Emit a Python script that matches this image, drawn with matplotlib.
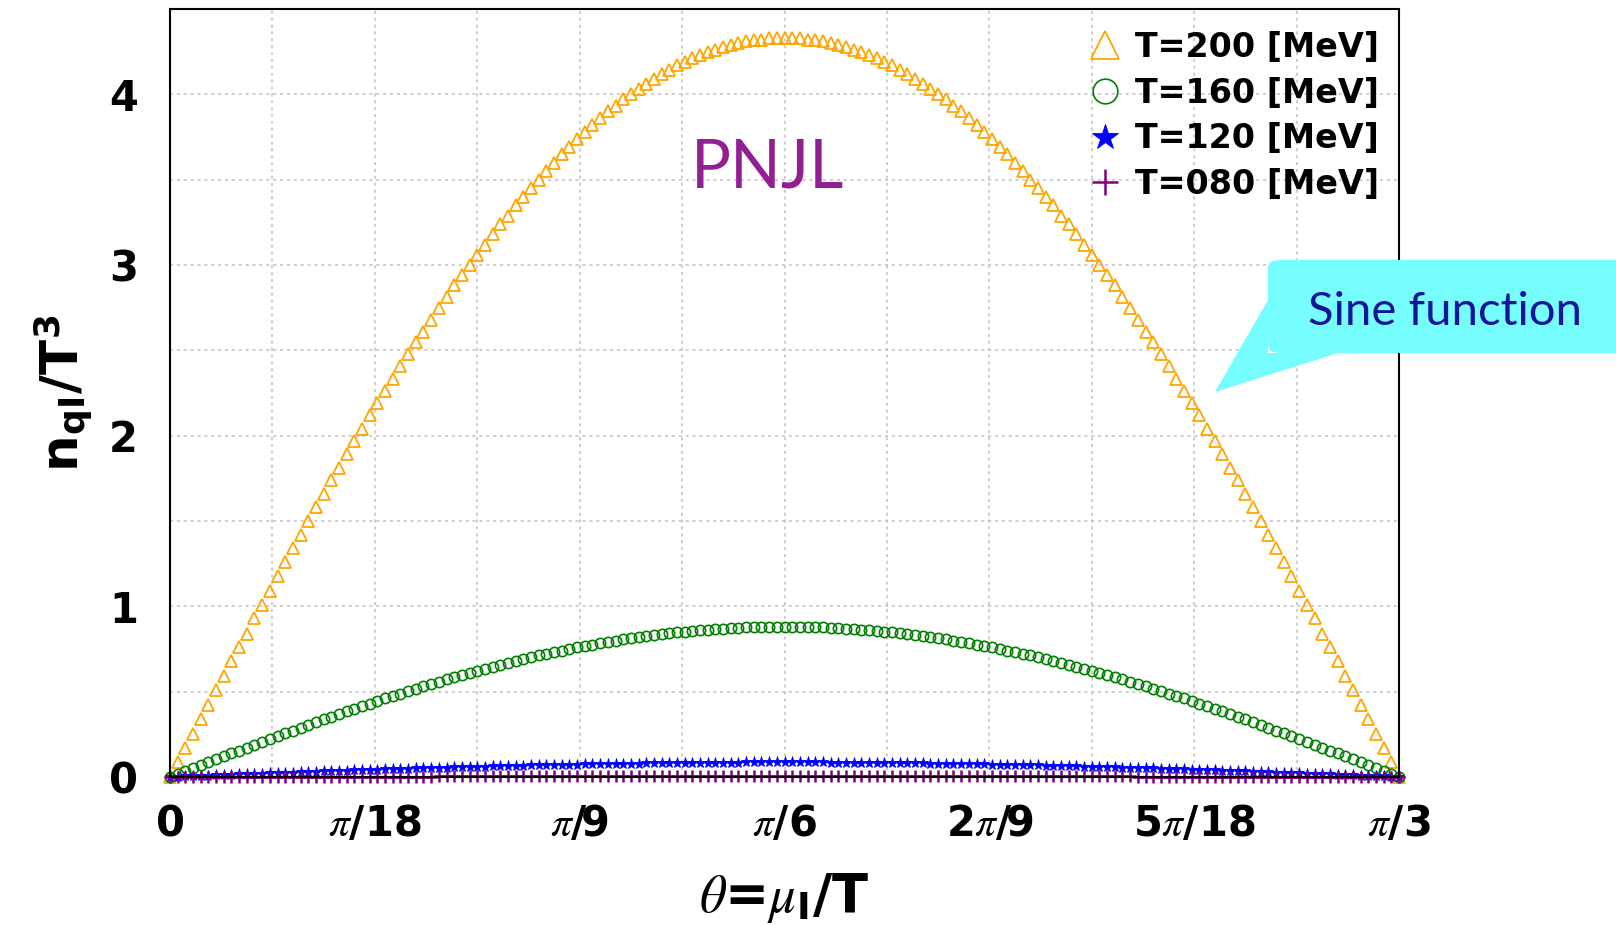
import numpy as np
import matplotlib
matplotlib.use('Agg')
import matplotlib.pyplot as plt
from matplotlib.patches import FancyBboxPatch, Polygon

plt.rcParams['font.family'] = ['DejaVu Sans']
plt.rcParams['mathtext.fontset'] = 'custom'
plt.rcParams['mathtext.it'] = 'STIXGeneral:italic'
plt.rcParams['mathtext.rm'] = 'DejaVu Sans:bold'
plt.rcParams['mathtext.bf'] = 'DejaVu Sans:bold'
plt.rcParams['mathtext.sf'] = 'DejaVu Sans:bold'

# data (161 points from 0 to pi/3)
n_points = 161
t200 = [0.00, 0.09, 0.17, 0.25, 0.34, 0.42, 0.51, 0.59, 0.68, 0.76,
        0.84, 0.93, 1.01, 1.09, 1.18, 1.26, 1.34, 1.42, 1.50, 1.58,
        1.66, 1.74, 1.81, 1.89, 1.97, 2.04, 2.12, 2.19, 2.26, 2.33,
        2.41, 2.48, 2.55, 2.61, 2.68, 2.75, 2.81, 2.88, 2.94, 3.00,
        3.06, 3.12, 3.18, 3.24, 3.29, 3.35, 3.40, 3.45, 3.50, 3.55,
        3.60, 3.65, 3.69, 3.74, 3.78, 3.82, 3.86, 3.90, 3.93, 3.97,
        4.00, 4.03, 4.06, 4.09, 4.12, 4.14, 4.17, 4.19, 4.21, 4.23,
        4.25, 4.26, 4.28, 4.29, 4.30, 4.31, 4.32, 4.32, 4.33, 4.33,
        4.33,
        4.33, 4.33, 4.32, 4.32, 4.31, 4.30, 4.29, 4.28, 4.26, 4.25,
        4.23, 4.21, 4.19, 4.17, 4.14, 4.12, 4.09, 4.06, 4.03, 4.00,
        3.97, 3.93, 3.90, 3.86, 3.82, 3.78, 3.74, 3.69, 3.65, 3.60,
        3.55, 3.50, 3.45, 3.40, 3.35, 3.29, 3.24, 3.18, 3.12, 3.06,
        3.00, 2.94, 2.88, 2.81, 2.75, 2.68, 2.61, 2.55, 2.48, 2.41,
        2.33, 2.26, 2.19, 2.12, 2.04, 1.97, 1.89, 1.81, 1.74, 1.66,
        1.58, 1.50, 1.42, 1.34, 1.26, 1.18, 1.09, 1.01, 0.93, 0.84,
        0.76, 0.68, 0.59, 0.51, 0.42, 0.34, 0.25, 0.17, 0.09, 0.00]
t160 = [0.000, 0.017, 0.035, 0.052, 0.069, 0.086, 0.103, 0.121, 0.138, 0.155,
        0.172, 0.189, 0.205, 0.222, 0.239, 0.255, 0.272, 0.288, 0.305, 0.321,
        0.337, 0.353, 0.368, 0.384, 0.400, 0.415, 0.430, 0.445, 0.460, 0.474,
        0.489, 0.503, 0.517, 0.531, 0.545, 0.558, 0.572, 0.585, 0.597, 0.610,
        0.622, 0.634, 0.646, 0.658, 0.669, 0.680, 0.691, 0.702, 0.712, 0.722,
        0.732, 0.741, 0.750, 0.759, 0.768, 0.776, 0.784, 0.792, 0.799, 0.806,
        0.813, 0.819, 0.826, 0.831, 0.837, 0.842, 0.847, 0.851, 0.856, 0.860,
        0.863, 0.866, 0.869, 0.872, 0.874, 0.876, 0.877, 0.878, 0.879, 0.880,
        0.880,
        0.880, 0.879, 0.878, 0.877, 0.876, 0.874, 0.872, 0.869, 0.866, 0.863,
        0.860, 0.856, 0.851, 0.847, 0.842, 0.837, 0.831, 0.826, 0.819, 0.813,
        0.806, 0.799, 0.792, 0.784, 0.776, 0.768, 0.759, 0.750, 0.741, 0.732,
        0.722, 0.712, 0.702, 0.691, 0.680, 0.669, 0.658, 0.646, 0.634, 0.622,
        0.610, 0.597, 0.585, 0.572, 0.558, 0.545, 0.531, 0.517, 0.503, 0.489,
        0.474, 0.460, 0.445, 0.430, 0.415, 0.400, 0.384, 0.368, 0.353, 0.337,
        0.321, 0.305, 0.288, 0.272, 0.255, 0.239, 0.222, 0.205, 0.189, 0.172,
        0.155, 0.138, 0.121, 0.103, 0.086, 0.069, 0.052, 0.035, 0.017, 0.000]
t120 = [0.000, 0.002, 0.003, 0.005, 0.007, 0.008, 0.010, 0.012, 0.013, 0.015,
        0.017, 0.018, 0.020, 0.021, 0.023, 0.025, 0.026, 0.028, 0.029, 0.031,
        0.033, 0.034, 0.036, 0.037, 0.039, 0.040, 0.042, 0.043, 0.044, 0.046,
        0.047, 0.049, 0.050, 0.051, 0.053, 0.054, 0.055, 0.056, 0.058, 0.059,
        0.060, 0.061, 0.062, 0.064, 0.065, 0.066, 0.067, 0.068, 0.069, 0.070,
        0.071, 0.072, 0.072, 0.073, 0.074, 0.075, 0.076, 0.076, 0.077, 0.078,
        0.079, 0.079, 0.080, 0.080, 0.081, 0.081, 0.082, 0.082, 0.083, 0.083,
        0.083, 0.084, 0.084, 0.084, 0.084, 0.085, 0.085, 0.085, 0.085, 0.085,
        0.085,
        0.085, 0.085, 0.085, 0.085, 0.085, 0.084, 0.084, 0.084, 0.084, 0.083,
        0.083, 0.083, 0.082, 0.082, 0.081, 0.081, 0.080, 0.080, 0.079, 0.079,
        0.078, 0.077, 0.076, 0.076, 0.075, 0.074, 0.073, 0.072, 0.072, 0.071,
        0.070, 0.069, 0.068, 0.067, 0.066, 0.065, 0.064, 0.062, 0.061, 0.060,
        0.059, 0.058, 0.056, 0.055, 0.054, 0.053, 0.051, 0.050, 0.049, 0.047,
        0.046, 0.044, 0.043, 0.042, 0.040, 0.039, 0.037, 0.036, 0.034, 0.033,
        0.031, 0.029, 0.028, 0.026, 0.025, 0.023, 0.021, 0.020, 0.018, 0.017,
        0.015, 0.013, 0.012, 0.010, 0.008, 0.007, 0.005, 0.003, 0.002, 0.000]
t080 = [0.000, 0.000, 0.000, 0.000, 0.000, 0.000, 0.000, 0.001, 0.001, 0.001,
        0.001, 0.001, 0.001, 0.001, 0.001, 0.001, 0.001, 0.001, 0.001, 0.001,
        0.002, 0.002, 0.002, 0.002, 0.002, 0.002, 0.002, 0.002, 0.002, 0.002,
        0.002, 0.002, 0.002, 0.002, 0.002, 0.003, 0.003, 0.003, 0.003, 0.003,
        0.003, 0.003, 0.003, 0.003, 0.003, 0.003, 0.003, 0.003, 0.003, 0.003,
        0.003, 0.003, 0.003, 0.003, 0.003, 0.004, 0.004, 0.004, 0.004, 0.004,
        0.004, 0.004, 0.004, 0.004, 0.004, 0.004, 0.004, 0.004, 0.004, 0.004,
        0.004, 0.004, 0.004, 0.004, 0.004, 0.004, 0.004, 0.004, 0.004, 0.004,
        0.004, 0.004, 0.004, 0.004, 0.004, 0.004, 0.004, 0.004, 0.004, 0.004,
        0.004, 0.004, 0.004, 0.004, 0.004, 0.004, 0.004, 0.004, 0.004, 0.004,
        0.004, 0.004, 0.004, 0.004, 0.004, 0.004, 0.003, 0.003, 0.003, 0.003,
        0.003, 0.003, 0.003, 0.003, 0.003, 0.003, 0.003, 0.003, 0.003, 0.003,
        0.003, 0.003, 0.003, 0.003, 0.003, 0.003, 0.002, 0.002, 0.002, 0.002,
        0.002, 0.002, 0.002, 0.002, 0.002, 0.002, 0.002, 0.002, 0.002, 0.002,
        0.002, 0.001, 0.001, 0.001, 0.001, 0.001, 0.001, 0.001, 0.001, 0.001,
        0.001, 0.001, 0.001, 0.001, 0.000, 0.000, 0.000, 0.000, 0.000, 0.000,
        0.000]
labels = ['T=200 [MeV]', 'T=160 [MeV]', 'T=120 [MeV]', 'T=080 [MeV]']
xtick_labels = ['0', r'$\pi$/18', r'$\pi$/9', r'$\pi$/6', r'2$\pi$/9', r'5$\pi$/18', r'$\pi$/3']

theta = np.linspace(0, np.pi / 3, n_points)

W, H = 1616, 925
fig = plt.figure(figsize=(W / 100, H / 100), dpi=100)
ax = fig.add_axes([170 / W, 1 - 777 / H, 1229 / W, 768 / H])

ax.plot(theta, t200, ls='none', marker='^', ms=8.5, mfc='none', mec='orange', mew=1.3,
        clip_on=False, label=labels[0])
ax.plot(theta, t160, ls='none', marker='o', ms=7.4, mfc='none', mec='green', mew=1.2,
        clip_on=False, label=labels[1])
ax.plot(theta, t120, ls='none', marker='*', ms=8.0, color='blue', mew=0.6,
        clip_on=False, label=labels[2])
ax.plot(theta, t080, ls='none', marker='+', ms=8.0, color='purple', mew=1.8,
        clip_on=False, label=labels[3])

ax.set_xlim(0, np.pi / 3)
ax.set_ylim(0, 4.5)
ax.set_xticks(np.arange(7) * np.pi / 18)
ax.set_xticklabels(xtick_labels)
ax.set_xticks(np.arange(13) * np.pi / 36, minor=True)
ax.set_yticks([0, 1, 2, 3, 4])
ax.set_yticks(np.arange(0, 4.6, 0.5), minor=True)
ax.tick_params(which='both', length=0)
ax.tick_params(axis='x', pad=19, labelsize=30)
ax.tick_params(axis='y', pad=23, labelsize=30)
for lab in ax.get_xticklabels() + ax.get_yticklabels():
    lab.set_fontweight('bold')
ax.grid(which='both', color='#c0c0c0', ls=(0, (2, 2.5)), lw=1.1)
for s in ax.spines.values():
    s.set_linewidth(1.5)

ax.set_ylabel(r'n$_{\mathsf{qI}}$/T$^{\mathsf{3}}$', fontsize=37, fontweight='bold')
ax.yaxis.set_label_coords(-0.062, 0.5)
ax.set_xlabel(r'$\theta$=$\mu_{\mathsf{I}}$/T', fontsize=38, fontweight='bold')
ax.xaxis.set_label_coords(0.5, -0.122)

ax.legend(loc='upper right', bbox_to_anchor=(0.997, 0.993), frameon=False, borderpad=0,
          prop={'weight': 'bold', 'size': 24}, markerscale=2.4, handlelength=1.0,
          handletextpad=0.4, labelspacing=0.38)

# PNJL label
fig.text(768 / W, 1 - 169 / H, 'PNJL', fontsize=48, family='Lato', color='#931f93',
         ha='center', va='center')

# callout box
box = FancyBboxPatch((1268 / W, 1 - 353 / H), 400 / W, 93 / H,
                     boxstyle='round,pad=0,rounding_size=0.008',
                     transform=fig.transFigure, fc='#76fdfd', ec='none')
fig.add_artist(box)
tail = Polygon([(1268 / W, 1 - 300 / H), (1215 / W, 1 - 392 / H), (1338 / W, 1 - 353 / H), (1268 / W, 1 - 353 / H)],
               closed=True, transform=fig.transFigure, fc='#76fdfd', ec='none')
fig.add_artist(tail)
fig.text(1308 / W, 1 - 325 / H, 'Sine function', fontsize=34, family='Lato', color='#14149b',
         ha='left', va='baseline')

fig.savefig('out.png', dpi=100)
